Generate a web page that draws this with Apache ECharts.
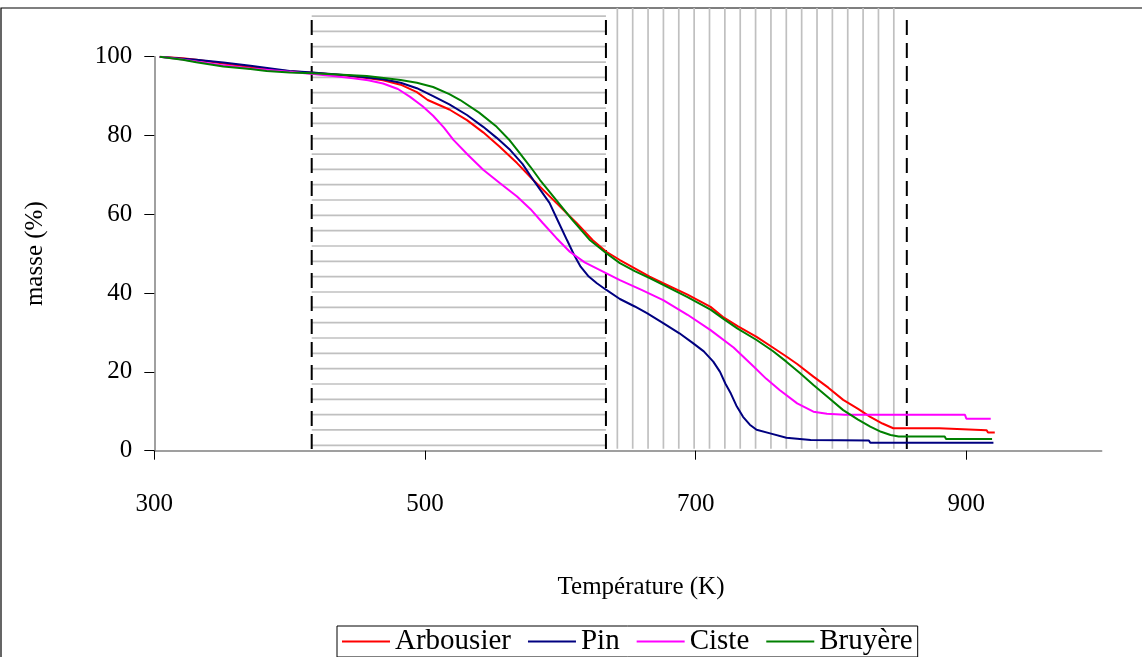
<!DOCTYPE html>
<html><head><meta charset="utf-8">
<script src="https://cdn.jsdelivr.net/npm/echarts@6/dist/echarts.min.js"></script>
<style>html,body{margin:0;padding:0;background:#fff}#c{width:1142px;height:657px}</style>
</head><body><div id="c"></div>
<script>
// ---- data (Température K, masse %) ----
const seriesNames = ['Arbousier', 'Pin', 'Ciste', 'Bruyère'];
const arbousier = [[304,100],[321,99.6],[331,99.2],[351,98.3],[371,97.4],[383,96.9],[400,96.3],[417,95.9],[442,95.2],[457,94.6],[469,94.0],[482,92.9],[494,91.0],[502,89.0],[518,86.6],[531,83.9],[543,80.8],[555,77.2],[568,73.0],[580,68.7],[597,62.9],[612,57.8],[624,53.4],[634,50.5],[644,48.4],[655,46.3],[666,44.2],[676,42.5],[694,39.6],[711,36.5],[720,34.0],[731,31.6],[745,28.9],[757,26.2],[767,23.9],[775,22.0],[787,18.8],[798,16.0],[809,12.9],[820,10.6],[829,8.6],[838,6.9],[846,5.7],[880,5.7],[881,5.2],[915,5.2],[916,4.6],[921,4.6]];
const pin = [[304,100],[321,99.5],[331,99.2],[351,98.5],[371,97.7],[400,96.4],[417,96.0],[442,95.3],[469,94.3],[482,93.4],[494,92.0],[506,90.0],[518,87.9],[531,85.2],[543,82.2],[553,79.4],[563,76.3],[572,72.8],[580,68.7],[586,65.8],[592,62.9],[598,58.5],[605,53.4],[610,49.8],[615,46.7],[621,44.2],[627,42.5],[634,40.8],[644,38.5],[655,36.6],[664,34.9],[676,32.4],[688,29.8],[698,27.3],[706,25.2],[713,22.6],[718,20.0],[722,17.0],[726,14.5],[730,11.5],[735,8.6],[740,6.6],[745,5.3],[755,4.4],[767,3.3],[785,2.7],[828,2.6],[829,2.0],[920,2.0]];
const ciste = [[304,100],[321,99.3],[331,98.8],[351,97.8],[371,97.0],[400,96.2],[417,95.6],[432,95.1],[447,94.5],[458,94.0],[469,93.2],[480,91.8],[489,89.8],[498,87.5],[506,85.0],[514,82.0],[521,78.9],[532,75.0],[543,71.3],[555,68.0],[568,64.5],[578,61.3],[587,57.8],[597,54.0],[607,50.5],[618,47.8],[629,45.9],[644,43.3],[660,40.8],[676,38.2],[694,34.5],[711,30.6],[728,26.2],[743,21.3],[752,18.3],[762,15.4],[775,12.0],[787,9.9],[797,9.4],[810,9.1],[899,9.1],[900,8.1],[918,8.1]];
const bruyere = [[304,100],[321,99.2],[331,98.6],[351,97.5],[371,96.9],[383,96.4],[400,96.0],[417,95.8],[457,95.1],[482,94.1],[494,93.4],[506,92.3],[518,90.5],[526,89.0],[540,85.8],[553,82.2],[562,79.0],[570,75.5],[578,72.0],[585,68.7],[597,63.6],[609,58.5],[622,53.4],[634,50.1],[644,47.6],[655,45.6],[666,43.8],[676,42.1],[694,39.0],[711,35.8],[720,33.6],[731,31.0],[745,28.1],[757,25.3],[767,22.6],[777,19.7],[787,16.7],[798,13.5],[809,10.3],[820,7.9],[829,6.1],[837,4.8],[844,4.0],[850,3.6],[884,3.6],[885,3.0],[919,3.0]];
const seriesColors = ['#ff0000', '#000080', '#ff00ff', '#008000'];
// zone boundaries (K) and hatch type of each zone
const zoneBounds = [416.3, 633.7, 856];
const zoneHatch = ['h', 'v'];
const xTickValues = [300, 500, 700, 900];
const yTickValues = [0, 20, 40, 60, 80, 100];

const FONT = 'Liberation Serif, Times New Roman, serif';
const chart = echarts.init(document.getElementById('c'), null, {renderer: 'canvas'});

const zoneData = zoneHatch.map((h, i) => [zoneBounds[i], zoneBounds[i + 1], i]);

function renderZone(params, api) {
  const i = api.value(2);
  const x1 = api.coord([api.value(0), 0])[0];
  const x2 = api.coord([api.value(1), 0])[0];
  const yb = api.coord([300, 0])[1];
  const yt = params.coordSys.y - 48.7;
  const children = [];
  const hatchStyle = {stroke: '#c0c0c0', lineWidth: 1.7};
  if (zoneHatch[i] === 'h') {
    for (let y = yb - 5.4; y >= yt + 6; y -= 15.33) {
      children.push({type: 'line', shape: {x1: x1, y1: y, x2: x2, y2: y}, style: hatchStyle});
    }
  } else {
    for (let x = x1 + 11.4; x < x2 - 5; x += 15.36) {
      children.push({type: 'line', shape: {x1: x, y1: yt, x2: x, y2: yb - 2}, style: hatchStyle});
    }
  }
  const dash = {stroke: '#000', lineWidth: 2, lineDash: [15, 8]};
  children.push({type: 'line', shape: {x1: x1, y1: yt + 12, x2: x1, y2: yb}, style: dash});
  if (i === zoneHatch.length - 1) {
    children.push({type: 'line', shape: {x1: x2, y1: yt + 12, x2: x2, y2: yb}, style: dash});
  }
  return {type: 'group', children: children};
}

const dataSets = [arbousier, pin, ciste, bruyere];
const lineSeries = seriesNames.map((n, k) => ({
  name: n, type: 'line', data: dataSets[k], symbol: 'none', showSymbol: false,
  lineStyle: {color: seriesColors[k], width: 2}, itemStyle: {color: seriesColors[k]},
  z: 3, animation: false
}));

chart.setOption({
  animation: false,
  backgroundColor: '#fff',
  textStyle: {fontFamily: FONT},
  graphic: [{type: 'rect', shape: {x: 1, y: 8, width: 1400, height: 900}, style: {fill: null, stroke: '#000', lineWidth: 1.2}, z: 0, silent: true}],
  grid: {left: 154.3, right: 40.3, top: 56.7, bottom: 206.3},
  xAxis: {
    type: 'value', min: 300, max: 1000,
    name: 'Température (K)', nameLocation: 'middle', nameGap: 124,
    nameTextStyle: {fontFamily: FONT, fontSize: 25, color: '#000', padding: [0, 0, 0, 26]},
    axisLine: {show: true, lineStyle: {color: '#808080', width: 1.5}},
    axisTick: {show: true, inside: false, length: 9, customValues: xTickValues, lineStyle: {color: '#000', width: 1}},
    axisLabel: {customValues: xTickValues, margin: 41, fontFamily: FONT, fontSize: 25, color: '#000'},
    splitLine: {show: false}
  },
  yAxis: {
    type: 'value', min: 0, max: 100, interval: 20,
    name: 'masse (%)', nameLocation: 'middle', nameGap: 106,
    nameTextStyle: {fontFamily: FONT, fontSize: 25, color: '#000'},
    axisLine: {show: true, lineStyle: {color: '#808080', width: 1.5}},
    axisTick: {show: true, inside: false, length: 10, customValues: yTickValues, lineStyle: {color: '#000', width: 1}},
    axisLabel: {customValues: yTickValues, margin: 22, fontFamily: FONT, fontSize: 25, color: '#000'},
    splitLine: {show: false}
  },
  legend: {
    data: seriesNames, left: 337, top: 626, orient: 'horizontal',
    borderColor: '#000', borderWidth: 1, padding: [1, 5, 1, 5], itemGap: 17,
    icon: 'rect', itemWidth: 48, itemHeight: 2,
    textStyle: {fontFamily: FONT, fontSize: 29, color: '#000', lineHeight: 27}
  },
  series: [{
    type: 'custom', renderItem: renderZone, data: zoneData, clip: false, silent: true,
    encode: {x: [0, 1], y: 2}, z: 1, animation: false
  }].concat(lineSeries)
});
</script></body></html>
